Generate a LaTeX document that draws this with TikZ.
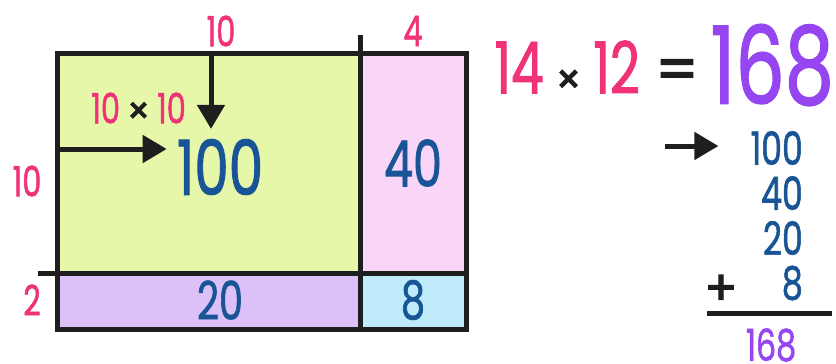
\documentclass[tikz,border=0pt]{standalone}
\usepackage{fontspec}
\usetikzlibrary{arrows.meta,positioning}
\newfontfamily\digitfont[FakeStretch=0.72,FakeBold=1.2]{Poppins}
\newfontfamily\signfont[FakeBold=2.5]{Poppins}
\definecolor{areagreen}{RGB}{231,247,170}
\definecolor{areapink}{RGB}{249,214,247}
\definecolor{areapurple}{RGB}{220,192,248}
\definecolor{areablue}{RGB}{190,234,250}
\definecolor{factorpink}{RGB}{240,50,120}
\definecolor{partblue}{RGB}{25,85,150}
\definecolor{totalpurple}{RGB}{150,70,240}
\definecolor{inkblack}{RGB}{30,30,30}
\newcommand{\fs}[1]{\digitfont\fontsize{#1}{#1}\selectfont}
\newcommand{\timessign}[1]{\textcolor{inkblack}{\signfont\fontsize{#1}{#1}\selectfont ×}}

\begin{document}
\begin{tikzpicture}[x=1pt,y=-1pt,
  edge/.style={line width=5pt,draw=inkblack},
  factor/.style={text=factorpink,inner sep=0pt,font=\fs{42}},
  part/.style={text=partblue,inner sep=0pt},
  ptr/.style={line width=5pt,draw=inkblack,-{Triangle[length=24pt,width=27pt]}}]
  \useasboundingbox (0,0) rectangle (836,364);
  % Areas of the grid:
  \fill[areagreen] (57,53) rectangle (360,273);
  \fill[areapink] (360,53) rectangle (466,273);
  \fill[areapurple] (57,273) rectangle (360,329);
  \fill[areablue] (360,273) rectangle (466,329);
  \draw[edge] (57,53) rectangle (466,329);
  \draw[edge] (360,35) -- (360,329);
  \draw[edge] (38,273) -- (466,273);
  % Factors:
  \node[factor] (tens) at (221,31) {10};
  \node[factor] (ones) at (413,31) {4};
  \node[factor] (rowtens) at (27,181) {10};
  \node[factor] (rowones) at (32,300) {2};
  \node[factor,anchor=east] (prod) at (186,108) {10\,\timessign{36}\,10};
  % Partial products:
  \node[part,font=\fs{76}] (hundred) at (220,167) {100};
  \node[part,font=\fs{64}] (forty) at (413,163) {40};
  \node[part,font=\fs{53}] (twenty) at (220,300) {20};
  \node[part,font=\fs{53}] (eight) at (413,300) {8};
  \coordinate (topin) at (211,53);
  \coordinate (leftin) at (57,149);
  \draw[ptr] (topin) -- ([yshift=10pt]hundred.north -| topin);
  \draw[ptr] (leftin) -- ([xshift=-10pt]hundred.west |- leftin);
  % Equation and sum:
  \node[factor,font=\fs{72},anchor=east] (task) at (640,67) {14\,\timessign{40}\,12};
  \node[text=inkblack,inner sep=0pt,font=\signfont\fontsize{60}{60}\selectfont] (eq) at (677,75) {=};
  \node[text=totalpurple,inner sep=0pt,font=\fs{108},anchor=east] (total) at (834,65) {168};
  \node[part,font=\fs{46},anchor=east] (s1) at (803,148) {100};
  \node[part,font=\fs{46},anchor=east] (s2) at (803,193) {40};
  \node[part,font=\fs{46},anchor=east] (s3) at (803,238) {20};
  \node[part,font=\fs{46},anchor=east] (s4) at (803,283) {8};
  \node[text=inkblack,inner sep=0pt,font=\signfont\fontsize{48}{48}\selectfont] (plus) at (721,290) {+};
  \node[text=totalpurple,inner sep=0pt,font=\fs{44}] (sum) at (771,345) {168};
  \coordinate (arrowtail) at (665,146);
  \draw[ptr] (arrowtail) -- ([xshift=-32pt]s1.west |- arrowtail);
  \coordinate (barleft) at (707,313);
  \coordinate (barright) at (832,313);
  \draw[edge] (barleft) -- (barright);
\end{tikzpicture}
\end{document}
